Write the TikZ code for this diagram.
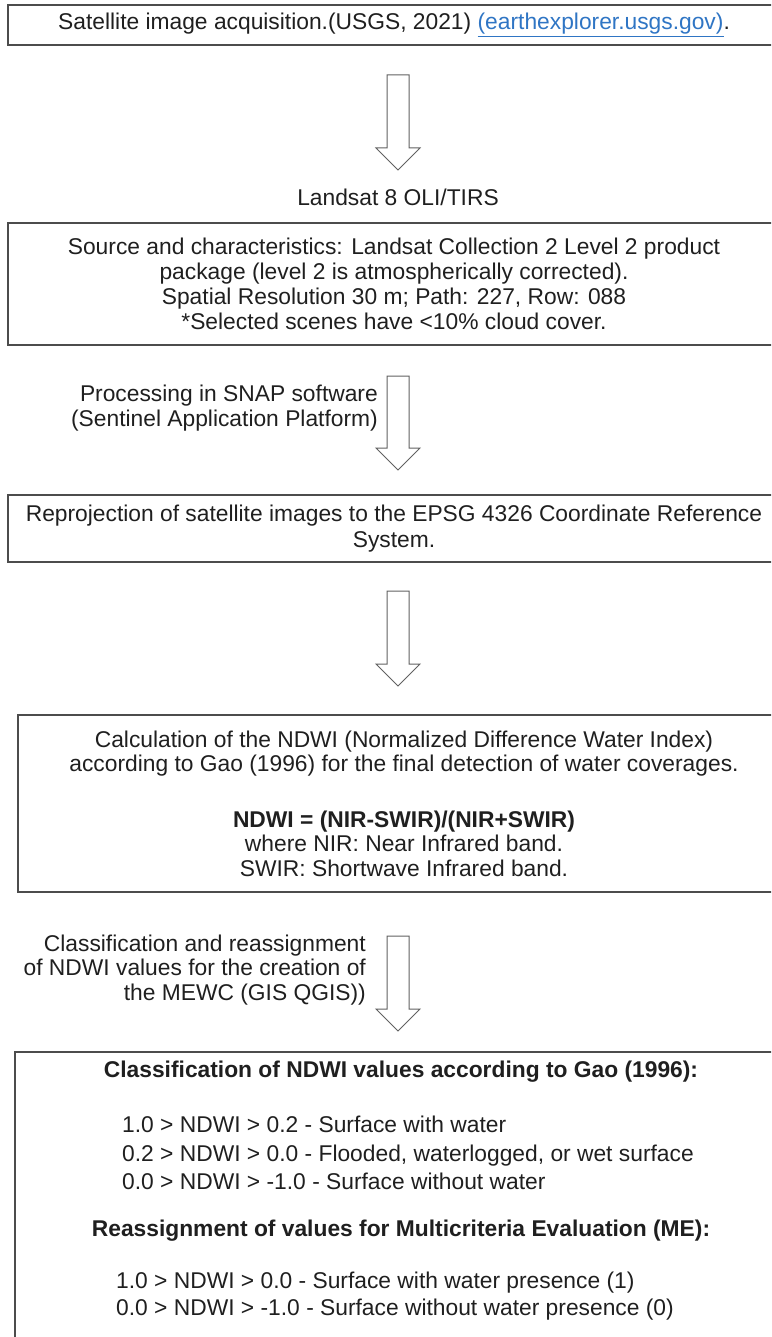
\documentclass[tikz,border=0pt]{standalone}
\usepackage{fontspec}
\setmainfont{Liberation Sans}
\usetikzlibrary{calc}
\definecolor{linkblue}{HTML}{2F75C4}
\newcommand{\hollowarrow}[2]{%
\draw[hollow] ($(#1)+(-11,0)$) -- ($(#1)+(11,0)$) -- ($(#2)+(11,-22)$) -- ($(#2)+(22,-22)$)
 -- (#2) -- ($(#2)+(-22,-22)$) -- ($(#2)+(-11,-22)$) -- cycle;}
\begin{document}
\begin{tikzpicture}[
x=1pt, y=-1pt,
every node/.style={font=\fontsize{22.8}{25}\selectfont, text=black!88, inner sep=0pt},
box/.style={draw=black!70, line width=1.4pt, align=center, minimum width=772pt},
hollow/.style={draw=black!62, line width=1pt}
]
\useasboundingbox (0,0) rectangle (771,1337);
\clip (0,0) rectangle (771,1337);

\node[box, minimum height=40pt] (acq) at (394,25) {Satellite image acquisition.(USGS, 2021) \textcolor{linkblue}{\underline{(earthexplorer.usgs.gov)}}.};
\node (landsat) at (398,197) {Landsat 8 OLI/TIRS};
\node[box, minimum height=122pt] (source) at (394,284) {Source and characteristics: Landsat Collection 2 Level 2 product\\
package (level 2 is atmospherically corrected).\\
Spatial Resolution 30 m; Path: 227, Row: 088\\
*Selected scenes have <10\% cloud cover.};
\node[anchor=east, align=right] (snap) at (378,408) {Processing in SNAP software\\(Sentinel Application Platform)};
\node[box, minimum height=67pt, font=\fontsize{22.8}{26}\selectfont] (reproj) at (394,528.5) {Reprojection of satellite images to the EPSG 4326 Coordinate Reference\\System.};
\node[box, minimum height=177pt, font=\fontsize{22.8}{24.5}\selectfont] (ndwi) at (404,803.5) {Calculation of the NDWI (Normalized Difference Water Index)\\
according to Gao (1996) for the final detection of water coverages.\\[31pt]
\textbf{NDWI = (NIR-SWIR)/(NIR+SWIR)}\\
where NIR: Near Infrared band.\\
SWIR: Shortwave Infrared band.};
\node[anchor=east, align=right, font=\fontsize{22.8}{24.5}\selectfont] (qgis) at (366,970) {Classification and reassignment\\
of NDWI values for the creation of\\
the MEWC (GIS QGIS))};
\node[box, minimum height=300pt] (classes) at (401,1202) {};
\node (cltitle) at (401,1072) {\bfseries Classification of NDWI values according to Gao (1996):};
\node[anchor=west, align=left, font=\fontsize{22.8}{28.5}\selectfont] (cllist) at (122,1153) {1.0 > NDWI > 0.2 - Surface with water\\
0.2 > NDWI > 0.0 - Flooded, waterlogged, or wet surface\\
0.0 > NDWI > -1.0 - Surface without water};
\node (metitle) at (401,1231) {\bfseries Reassignment of values for Multicriteria Evaluation (ME):};
\node[anchor=west, align=left, font=\fontsize{22.8}{27}\selectfont] (melist) at (116,1296.5) {1.0 > NDWI > 0.0 - Surface with water presence (1)\\
0.0 > NDWI > -1.0 - Surface without water presence (0)};

\coordinate (top1) at (398,75);
\coordinate (tip1) at (398,170);
\coordinate (top2) at (398,376);
\coordinate (tip2) at (398,470);
\coordinate (top3) at (398,591);
\coordinate (tip3) at (398,686);
\coordinate (top4) at (398,936);
\coordinate (tip4) at (398,1031);
\hollowarrow{top1}{tip1}
\hollowarrow{top2}{tip2}
\hollowarrow{top3}{tip3}
\hollowarrow{top4}{tip4}
\end{tikzpicture}
\end{document}
